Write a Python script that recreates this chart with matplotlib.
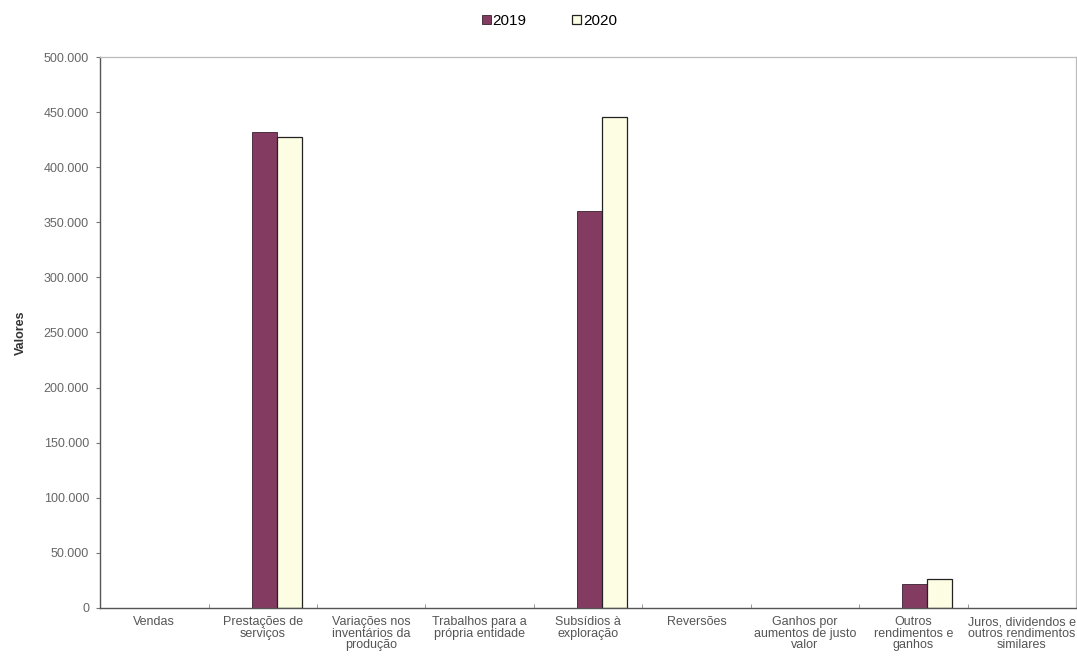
import matplotlib
matplotlib.use("Agg")
import matplotlib.pyplot as plt
from matplotlib.ticker import FuncFormatter, FixedLocator
from matplotlib.patches import Patch
import numpy as np

plt.rcParams['font.family'] = ['Liberation Sans', 'DejaVu Sans']

categories = [
    "Vendas",
    "Prestações de\nserviços",
    "Variações nos\ninventários da\nprodução",
    "Trabalhos para a\nprópria entidade",
    "Subsídios à\nexploração",
    "Reversões",
    "Ganhos por\naumentos de justo\nvalor",
    "Outros\nrendimentos e\nganhos",
    "Juros, dividendos e\noutros rendimentos\nsimilares",
]
values_2019 = [0, 432000, 0, 0, 360000, 0, 0, 22000, 0]
values_2020 = [0, 427000, 0, 0, 446000, 0, 0, 26000, 0]
series_labels = ["2019", "2020"]

color_2019, edge_2019 = "#843b61", "#3a2030"
color_2020, edge_2020 = "#fdfde4", "#222222"

fig = plt.figure(figsize=(10.77, 6.63), dpi=100)
ax = fig.add_axes([0.093, 0.083, 0.906, 0.831])

x = np.arange(len(categories))
width = 0.23
shift = 0.13
# empty categories get no visible bar outline on the baseline
lw19 = [0.6 if v else 0 for v in values_2019]
lw20 = [0.9 if v else 0 for v in values_2020]
ax.bar(x + shift - width / 2, values_2019, width, color=color_2019,
       edgecolor=edge_2019, linewidth=lw19)
ax.bar(x + shift + width / 2, values_2020, width, color=color_2020,
       edgecolor=edge_2020, linewidth=lw20)

ax.set_xlim(-0.5, len(categories) - 0.5)
ax.set_ylim(0, 500000)
ax.set_yticks(np.arange(0, 500001, 50000))
ax.yaxis.set_major_formatter(FuncFormatter(lambda v, p: f"{int(v):,}".replace(",", ".")))
ax.set_xticks(x)
ax.set_xticklabels(categories, fontsize=9, color="#555555", linespacing=0.95)
ax.tick_params(axis="x", which="major", length=0, pad=6)
ax.xaxis.set_minor_locator(FixedLocator(np.arange(-0.5, len(categories), 1.0)))
ax.tick_params(axis="x", which="minor", length=3, color="#888888", direction="in")
ax.tick_params(axis="y", labelsize=9, labelcolor="#666666", length=3,
               color="#777777", pad=5)

ax.set_ylabel("Valores", fontsize=9, fontweight="bold", color="#333333", labelpad=12)

for side in ["left", "bottom"]:
    ax.spines[side].set_color("#555555")
    ax.spines[side].set_linewidth(1.0)
for side in ["top", "right"]:
    ax.spines[side].set_color("#bbbbbb")
    ax.spines[side].set_linewidth(0.9)

handles = [
    Patch(facecolor=color_2019, edgecolor=edge_2019, linewidth=0.6),
    Patch(facecolor=color_2020, edgecolor=edge_2020, linewidth=0.9),
]
fig.legend(handles, series_labels, loc="upper center", bbox_to_anchor=(0.51, 1.0),
           ncol=2, frameon=False, fontsize=11, handlelength=0.6, handleheight=0.6,
           handletextpad=0.1, columnspacing=3.0)

fig.savefig("out.png", dpi=100, facecolor="white")
